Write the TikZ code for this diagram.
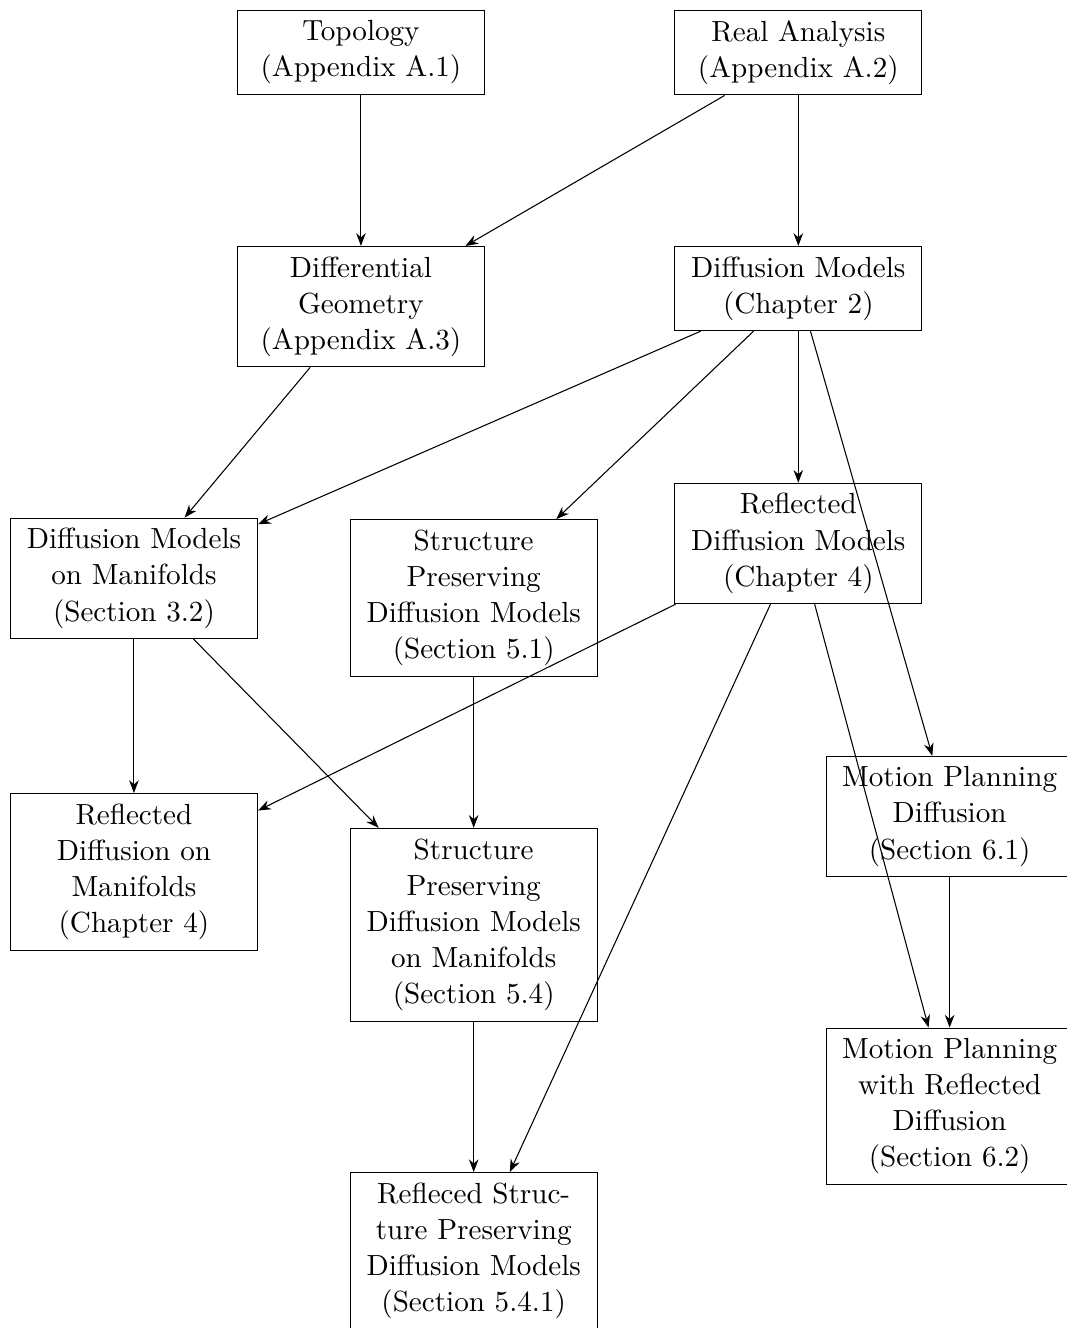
\documentclass[tikz,border=0pt,11pt]{standalone}
\usepackage{tikz}
\usetikzlibrary{arrows.meta}

\begin{document}
\begin{tikzpicture}[>=Stealth,
  topic/.style={draw, anchor=north, text width=3cm, align=center, inner sep=3.8pt}]
  \useasboundingbox (0,0) rectangle (14.10,-17.55);
  % Background
  \node[topic] (topo) at (4.77,-0.13) {Topology\\(Appendix A.1)};
  \node[topic] (realan) at (10.55,-0.13) {Real Analysis\\(Appendix A.2)};
  \node[topic] (diffgeo) at (4.77,-3.25) {Differential\\Geometry\\(Appendix A.3)};
  \node[topic] (diffmod) at (10.55,-3.25) {Diffusion Models\\(Chapter 2)};
  % Methods
  \node[topic] (diffman) at (1.77,-6.84) {Diffusion Models\\on Manifolds\\(Section 3.2)};
  \node[topic] (spdm) at (6.26,-6.86) {Structure\\Preserving\\Diffusion Models\\(Section 5.1)};
  \node[topic] (refdiff) at (10.55,-6.38) {Reflected\\Diffusion Models\\(Chapter 4)};
  \node[topic] (refman) at (1.77,-10.48) {Reflected\\Diffusion on\\Manifolds\\(Chapter 4)};
  \node[topic] (spdmman) at (6.26,-10.94) {Structure\\Preserving\\Diffusion Models\\on Manifolds\\(Section 5.4)};
  \node[topic] (refspdm) at (6.26,-15.49) {Refleced Struc-\\ture Preserving\\Diffusion Models\\(Section 5.4.1)};
  % Applications
  \node[topic] (motion) at (12.55,-9.99) {Motion Planning\\Diffusion\\(Section 6.1)};
  \node[topic] (motionref) at (12.55,-13.58) {Motion Planning\\with Reflected\\Diffusion\\(Section 6.2)};
  % Dependencies
  \draw[->] (topo) -- (diffgeo);
  \draw[->] (realan) -- (diffgeo);
  \draw[->] (realan) -- (diffmod);
  \draw[->] (diffgeo) -- (diffman);
  \draw[->] (diffmod) -- (diffman);
  \draw[->] (diffmod) -- (spdm);
  \draw[->] (diffmod) -- (refdiff);
  \draw[->] (diffmod) -- (motion);
  \draw[->] (diffman) -- (refman);
  \draw[->] (diffman) -- (spdmman);
  \draw[->] (spdm) -- (spdmman);
  \draw[->] (refdiff) -- (refman);
  \draw[->] (refdiff) -- (refspdm);
  \draw[->] (refdiff) -- (motionref);
  \draw[->] (spdmman) -- (refspdm);
  \draw[->] (motion) -- (motionref);
\end{tikzpicture}
\end{document}
